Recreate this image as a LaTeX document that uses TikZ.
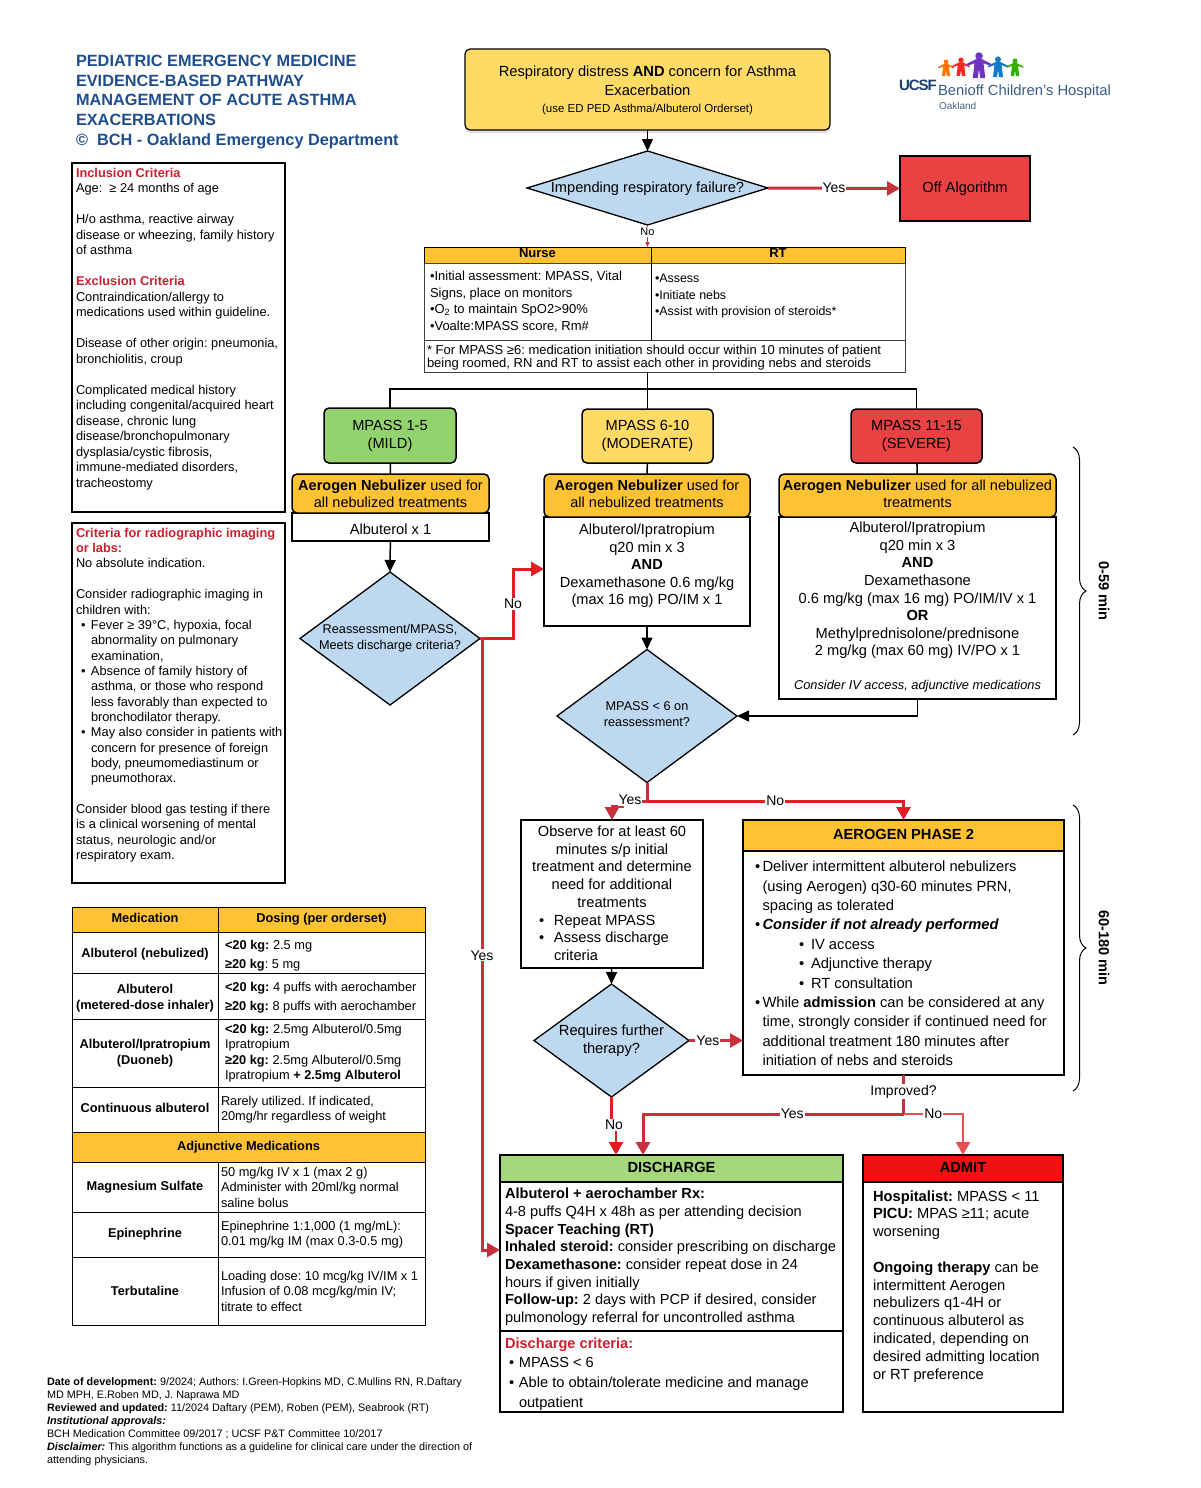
\documentclass[tikz,border=0pt]{standalone}
\usepackage{fontspec}
\setmainfont{Liberation Sans}
\usetikzlibrary{positioning}
\usetikzlibrary{arrows.meta}
\usetikzlibrary{shapes.geometric,shadows}
\usetikzlibrary{decorations.pathreplacing}
\definecolor{orangehead}{HTML}{FFC233}
\definecolor{yellowbox}{HTML}{FFDB66}
\definecolor{greenbox}{HTML}{93D36D}
\definecolor{redbox}{HTML}{E84242}
\definecolor{bluebox}{HTML}{BDD8EF}
\definecolor{greenhead}{HTML}{A5D87B}
\definecolor{admithead}{HTML}{F01212}
\definecolor{redline}{HTML}{C8303C}
\definecolor{brightred}{HTML}{E21E24}
\definecolor{softred}{HTML}{E8504F}
\definecolor{titleblue}{HTML}{1F4E8C}
\definecolor{criteriared}{HTML}{C9202F}
\newcommand{\fs}[2]{\frenchspacing\fontsize{#1}{#2}\selectfont}
\newcommand{\bul}[1]{\makebox[#1][l]{•}}
\newcommand{\drop}[1]{\rule{0pt}{#1}}
\newcommand{\logokid}[4]{%
  \begin{scope}[shift={(#1,#2)},scale=#3]
    \fill[#4] (0,-7.6) circle (3);
    \fill[#4] (-10,-1.2) -- (-2.5,-5) -- (2.5,-5) -- (10,-1.2) -- (9.5,.3) -- (3.6,-1.8)
      -- (5,10) -- (1,10) -- (0,3) -- (-1,10) -- (-5,10) -- (-3.6,-1.8) -- (-9.5,.3) -- cycle;
  \end{scope}%
}
\tikzset{
  box/.style={rectangle,draw=black,line width=1.5pt,inner sep=0pt,outer sep=0pt,
    align=center,font=\fs{14.65}{18}},
  rbox/.style={box,rounded corners=5pt},
  headbox/.style={rbox,fill=orangehead,minimum height=#1},
  phasehead/.style={box,text depth=3pt,font=\bfseries\fs{14.65}{18}},
  tablehead/.style={box,line width=1pt,fill=orangehead,minimum height=16pt,text depth=4pt,font=\bfseries\fs{13}{15}},
  tablebody/.style={box,line width=1pt,draw=black!75,minimum height=77pt},
  decision/.style={diamond,draw=black,line width=1.3pt,fill=bluebox,inner sep=0pt,outer sep=0pt},
  tx/.style={inner sep=0pt,outer sep=0pt,align=left,anchor=north west,font=\fs{12.8}{15.5}},
  txc/.style={inner sep=0pt,outer sep=0pt,align=center,anchor=north,font=\fs{14.65}{17.6}},
  name cell/.style={box,line width=1pt,minimum width=146pt,minimum height=#1,font=\bfseries\fs{12.8}{15.5}},
  dose cell/.style={box,line width=1pt,text width=201pt,inner xsep=3pt,minimum height=#1,
    align=flush left,font=\fs{12.8}{15.5}},
  lbl/.style={fill=white,inner sep=1pt,outer sep=0pt,font=\fs{14}{16}},
  flow/.style={draw=black,line width=1.5pt,-{Triangle[length=12pt,width=11pt]}},
  plain/.style={draw=black,line width=1.5pt},
  redflow/.style={draw=redline,line width=3pt,-{Triangle[length=13pt,width=14pt]}},
  brightflow/.style={draw=brightred,line width=3pt,-{Triangle[length=13pt,width=14pt]}},
  softflow/.style={draw=softred,line width=2.4pt,-{Triangle[length=13pt,width=14pt]}},
  span/.style={draw=black,line width=1pt,decorate,decoration={brace,amplitude=13pt,aspect=.5}},
  spanlabel/.style={rotate=-90,inner sep=0pt,font=\bfseries\fs{14.6}{16}},
}
\begin{document}
\begin{tikzpicture}[x=1pt,y=-1pt]
\useasboundingbox (0,0) rectangle (1200,1488);

\node[tx,text=titleblue,font=\bfseries\fs{16.3}{19.8}] (title) at (76,55)
  {PEDIATRIC EMERGENCY MEDICINE\\EVIDENCE-BASED PATHWAY\\MANAGEMENT OF ACUTE ASTHMA\\
   EXACERBATIONS\\©~ BCH - Oakland Emergency Department};

\logokid{946}{68}{.8}{orange!90!red}
\logokid{961}{67}{.9}{red!80!pink}
\logokid{979}{65.5}{1.25}{violet!60!blue!80}
\logokid{998}{67}{1}{cyan!60!blue}
\logokid{1015}{67.5}{.85}{green!60!black!80!yellow}
\node[tx,text=titleblue!80!black,font=\bfseries\fs{15}{16}] (ucsf) at (899,80) {\addfontfeatures{LetterSpace=-7}UCSF};
\node[tx,text=titleblue!70!gray,font=\fs{14.8}{16}] (benioff) at (938,85) {Benioff Children's Hospital};
\node[tx,text=titleblue!60!gray,font=\fs{10}{11}] (oakland) at (939,102) {Oakland};

\node[rbox,line width=1.2pt,fill=yellowbox,minimum width=365pt,minimum height=81pt,anchor=north west,
  drop shadow={shadow xshift=0pt,shadow yshift=-3pt,opacity=.25}] (start) at (465,49) {};
\node[txc,font=\fs{14.7}{19}] (starttext) at (647.5,66)
  {Respiratory distress \textbf{AND} concern for Asthma\\Exacerbation\\[-2pt]
   {\fs{11.5}{14}(use ED PED Asthma/Albuterol Orderset)}};

\node[decision,minimum width=241pt,minimum height=74pt] (failure) at (647.5,188) {};
\node[inner sep=0pt,font=\fs{14.6}{18}] (failuretext) at (647.5,188.5) {Impending respiratory failure?};
\node[box,line width=2pt,fill=redbox,minimum width=130pt,minimum height=65pt,anchor=north west] (off) at (900,156) {Off Algorithm};

\node[tablehead,minimum width=227pt,anchor=north west] (nursehead) at (424,247) {Nurse};
\node[tablehead,minimum width=254pt] (rthead) [right=0pt of nursehead] {RT};
\node[tablebody,minimum width=227pt] (nursebody) [below=0pt of nursehead] {};
\node[tablebody,minimum width=254pt] (rtbody) [below=0pt of rthead] {};
\node[tablebody,minimum width=481pt,minimum height=32pt] (note) [below right=0pt and 0pt of nursebody.south west] {};
\draw[line width=1pt] (nursebody.north east) -- (nursebody.south east);
\node[tx,font=\fs{13}{16.6}] (nursetext) at (430,271)
  {•Initial assessment: MPASS, Vital\\Signs, place on monitors\\•O\textsubscript{2} to maintain SpO2>90\%\\•Voalte:MPASS score, Rm\#};
\node[tx,font=\fs{12.4}{16.6}] (rttext) at (655,274)
  {•Assess\\•Initiate nebs\\•Assist with provision of steroids*};
\node[tx,font=\fs{13}{13.2}] (notetext) at (427,345)
  {* For MPASS ≥6: medication initiation should occur within 10 minutes of patient\\being roomed, RN and RT to assist each other in providing nebs and steroids};

\node[rbox,fill=greenbox,minimum width=132pt,minimum height=55pt,anchor=north west] (mild) at (324,408) {MPASS 1-5\\(MILD)};
\node[rbox,fill=yellowbox,minimum width=131pt,minimum height=54pt,anchor=north west] (moderate) at (582,409) {MPASS 6-10\\(MODERATE)};
\node[rbox,fill=redbox,minimum width=131pt,minimum height=54pt,anchor=north west] (severe) at (851,409) {MPASS 11-15\\(SEVERE)};

\node[box,minimum width=197pt,minimum height=28pt,anchor=north west] (mildbody) at (292,513) {};
\node[txc] (mildtext) at (390.5,524) {Albuterol x 1};
\node[headbox=39pt,minimum width=197pt,anchor=north west] (mildhead) at (292,474) {};
\node[txc,font=\fs{14.5}{17.4}] (mildheadtext) at (390.5,480) {\textbf{Aerogen Nebulizer} used for\\all nebulized treatments};
\node[box,minimum width=206pt,minimum height=109pt,anchor=north west] (modbody) at (544,517) {};
\node[headbox=43pt,minimum width=206pt,anchor=north west] (modhead) at (544,474) {};
\node[txc,font=\fs{14.5}{17.4}] (modheadtext) at (647,480) {\textbf{Aerogen Nebulizer} used for\\all nebulized treatments};
\node[txc,font=\fs{14.6}{17.6}] (modtext) at (647,524)
  {Albuterol/Ipratropium\\q20 min x 3\\\textbf{AND}\\Dexamethasone 0.6 mg/kg\\(max 16 mg) PO/IM x 1};
\node[box,minimum width=277pt,minimum height=182pt,anchor=north west] (sevbody) at (779,517) {};
\node[headbox=43pt,minimum width=277pt,anchor=north west] (sevhead) at (779,474) {};
\node[txc,font=\fs{14.5}{17.4}] (sevheadtext) at (917.5,480) {\textbf{Aerogen Nebulizer} used for all nebulized\\treatments};
\node[txc] (sevtext) at (917.5,522)
  {Albuterol/Ipratropium\\q20 min x 3\\\textbf{AND}\\Dexamethasone\\0.6 mg/kg (max 16 mg) PO/IM/IV x 1\\\textbf{OR}\\Methylprednisolone/prednisone\\2 mg/kg (max 60 mg) IV/PO x 1};
\node[txc,font=\itshape\fs{12.8}{15}] (sevnote) at (917.5,680) {Consider IV access, adjunctive medications};

\node[decision,minimum width=180pt,minimum height=133pt] (reassess) at (390,638.5) {};
\node[txc,font=\fs{12.7}{16}] (reassesstext) at (390,624) {Reassessment/MPASS,\\Meets discharge criteria?};
\node[decision,minimum width=180pt,minimum height=133pt] (recheck) at (647,716) {};
\node[txc,font=\fs{12.7}{15.5}] (rechecktext) at (647,702) {MPASS < 6 on\\reassessment?};

\node[box,minimum width=182pt,minimum height=148pt,anchor=north west] (observe) at (521,820) {};
\node[txc] (observetext) at (612,826)
  {Observe for at least 60\\minutes s/p initial\\treatment and determine\\need for additional\\treatments};
\node[tx,font=\fs{14.65}{17.6}] (observelist) at (539,915)
  {\bul{15pt}Repeat MPASS\\\bul{15pt}Assess discharge\\\hspace*{15pt}criteria};

\node[phasehead,fill=orangehead,minimum width=321pt,minimum height=31pt,anchor=north west] (phasetop) at (743,820) {AEROGEN PHASE 2};
\node[box,minimum width=321pt,minimum height=224pt] (phasebody) [below=0pt of phasetop] {};
\node[tx,font=\fs{14.7}{19.4}] (phasetext) at (755,861)
  {\bul{7.5pt}Deliver intermittent albuterol nebulizers\\
   \hspace*{7.5pt}(using Aerogen) q30-60 minutes PRN,\\
   \hspace*{7.5pt}spacing as tolerated\\
   \bul{7.5pt}\textbf{\textit{Consider if not already performed}}\\
   \hspace*{44pt}\bul{12pt}IV access\\
   \hspace*{44pt}\bul{12pt}Adjunctive therapy\\
   \hspace*{44pt}\bul{12pt}RT consultation\\
   \bul{7.5pt}While \textbf{admission} can be considered at any\\
   \hspace*{7.5pt}time, strongly consider if continued need for\\
   \hspace*{7.5pt}additional treatment 180 minutes after\\
   \hspace*{7.5pt}initiation of nebs and steroids};

\node[decision,minimum width=155pt,minimum height=113pt] (further) at (611.5,1040.5) {};
\node[txc,font=\fs{14.65}{18}] (furthertext) at (611.5,1024.5) {Requires further\\therapy?};

\node[phasehead,fill=greenhead,minimum width=343pt,minimum height=27pt,anchor=north west] (dischead) at (500,1155) {DISCHARGE};
\node[box,minimum width=343pt,minimum height=149pt] (discbody) [below=0pt of dischead] {};
\node[box,minimum width=343pt,minimum height=81pt] (disccrit) [below=0pt of discbody] {};
\node[tx,font=\fs{14.6}{17.72}] (disctext) at (505,1188)
  {\textbf{Albuterol + aerochamber Rx:}\\4-8 puffs Q4H x 48h as per attending decision\\
   \textbf{Spacer Teaching (RT)}\\\textbf{Inhaled steroid:} consider prescribing on discharge\\
   \textbf{Dexamethasone:} consider repeat dose in 24\\hours if given initially\\
   \textbf{Follow-up:} 2 days with PCP if desired, consider\\pulmonology referral for uncontrolled asthma};
\node[tx,font=\bfseries\fs{14.6}{18},text=criteriared] (crithead) at (505,1338) {Discharge criteria:};
\node[tx,font=\fs{14.6}{20}] (crittext) at (509,1357.5)
  {\bul{10pt}MPASS < 6\\\bul{10pt}Able to obtain/tolerate medicine and manage\\\hspace*{10pt}outpatient};

\node[phasehead,fill=admithead,minimum width=200pt,minimum height=27pt,anchor=north west] (admit) at (863,1155) {ADMIT};
\node[box,minimum width=200pt,minimum height=230pt] (admitbody) [below=0pt of admit] {};
\node[tx,font=\fs{14.7}{17.8}] (admittext) at (873,1190.5)
  {\textbf{Hospitalist:} MPASS < 11\\\textbf{PICU:} MPAS ≥11; acute\\worsening\\[\baselineskip]
   \textbf{Ongoing therapy} can be\\intermittent Aerogen\\nebulizers q1-4H or\\continuous albuterol as\\indicated, depending on\\desired admitting location\\or RT preference};

\node[box,minimum width=213pt,minimum height=349pt,anchor=north west] (inclusion) at (72,163) {};
\node[tx] (inclusiontext) at (76,168)
  {\textcolor{criteriared}{\textbf{Inclusion Criteria}}\\Age: ~≥ 24 months of age\\[\baselineskip]
   H/o asthma, reactive airway\\disease or wheezing, family history\\of asthma\\[\baselineskip]
   \textcolor{criteriared}{\textbf{Exclusion Criteria}}\\Contraindication/allergy to\\medications used within guideline.\\[\baselineskip]
   Disease of other origin: pneumonia,\\bronchiolitis, croup\\[\baselineskip]
   Complicated medical history\\including congenital/acquired heart\\disease, chronic lung\\disease/bronchopulmonary\\dysplasia/cystic fibrosis,\\immune-mediated disorders,\\tracheostomy};
\node[box,minimum width=213pt,minimum height=360pt,anchor=north west] (imaging) at (72,523) {};
\node[tx,font=\fs{12.8}{15.35}] (imagingtext) at (76,528)
  {\textcolor{criteriared}{\textbf{Criteria for radiographic imaging}}\\\textcolor{criteriared}{\textbf{or labs:}}\\No absolute indication.\\[\baselineskip]
   Consider radiographic imaging in\\children with:\\
   \hspace*{5pt}\bul{10pt}Fever ≥ 39°C, hypoxia, focal\\\hspace*{15pt}abnormality on pulmonary\\\hspace*{15pt}examination,\\
   \hspace*{5pt}\bul{10pt}Absence of family history of\\\hspace*{15pt}asthma, or those who respond\\\hspace*{15pt}less favorably than expected to\\\hspace*{15pt}bronchodilator therapy.\\
   \hspace*{5pt}\bul{10pt}May also consider in patients with\\\hspace*{15pt}concern for presence of foreign\\\hspace*{15pt}body, pneumomediastinum or\\\hspace*{15pt}pneumothorax.\\[\baselineskip]
   Consider blood gas testing if there\\is a clinical worsening of mental\\status, neurologic and/or\\respiratory exam.};

\node[name cell=25pt,fill=orangehead,text depth=3pt,anchor=north west] (medhead) at (72,907) {Medication};
\node[name cell=25pt,fill=orangehead,text depth=3pt,minimum width=207pt] (dosehead) [right=0pt of medhead] {Dosing (per orderset)};
\node[name cell=41pt] (neb) [below=0pt of medhead] {\drop{13.5pt}Albuterol (nebulized)};
\node[dose cell=41pt,font=\fs{12.8}{19}] (nebdose) [right=0pt of neb] {\drop{15.5pt}\hspace*{4pt}\textbf{<20 kg:} 2.5 mg\\\hspace*{4pt}\textbf{≥20 kg}: 5 mg};
\node[name cell=46pt] (mdi) [below=0pt of neb] {\drop{14pt}Albuterol\\[.5pt](metered-dose inhaler)};
\node[dose cell=46pt,font=\fs{12.8}{19}] (mdidose) [right=0pt of mdi] {\drop{13.5pt}\hspace*{4pt}\textbf{<20 kg:} 4 puffs with aerochamber\\\hspace*{4pt}\textbf{≥20 kg:} 8 puffs with aerochamber};
\node[name cell=68pt] (duoneb) [below=0pt of mdi] {Albuterol/Ipratropium\\(Duoneb)};
\node[dose cell=68pt] (duonebdose) [right=0pt of duoneb] {\hspace*{4pt}\textbf{<20 kg:} 2.5mg Albuterol/0.5mg\\\hspace*{4pt}Ipratropium\\\hspace*{4pt}\textbf{≥20 kg:} 2.5mg Albuterol/0.5mg\\\hspace*{4pt}Ipratropium \textbf{+ 2.5mg Albuterol}};
\node[name cell=45pt,text depth=3pt] (cont) [below=0pt of duoneb] {Continuous albuterol};
\node[dose cell=45pt] (contdose) [right=0pt of cont] {Rarely utilized. If indicated,\\20mg/hr regardless of weight};
\node[name cell=30pt,fill=orangehead,minimum width=353pt] (adjunct) [below right=0pt and 0pt of cont.south west] {Adjunctive Medications};
\node[name cell=50pt] (mag) [below right=0pt and 0pt of adjunct.south west] {Magnesium Sulfate};
\node[dose cell=50pt] (magdose) [right=0pt of mag] {50 mg/kg IV x 1 (max 2 g)\\Administer with 20ml/kg normal\\saline bolus};
\node[name cell=45pt] (epi) [below=0pt of mag] {Epinephrine};
\node[dose cell=45pt] (epidose) [right=0pt of epi] {Epinephrine 1:1,000 (1 mg/mL):\\0.01 mg/kg IM (max 0.3-0.5 mg)};
\node[name cell=68pt] (terb) [below=0pt of epi] {Terbutaline};
\node[dose cell=68pt] (terbdose) [right=0pt of terb] {Loading dose: 10 mcg/kg IV/IM x 1\\Infusion of 0.08 mcg/kg/min IV;\\titrate to effect};

\node[tx,font=\fs{10.82}{13}] (footer) at (47,1378)
  {\textbf{Date of development:} 9/2024; Authors: I.Green-Hopkins MD, C.Mullins RN, R.Daftary\\
   MD MPH, E.Roben MD, J. Naprawa MD\\
   \textbf{Reviewed and updated:} 11/2024 Daftary (PEM), Roben (PEM), Seabrook (RT)\\
   \textbf{\textit{Institutional approvals:}}\\
   BCH Medication Committee 09/2017 ; UCSF P\&T Committee 10/2017\\
   \textbf{\textit{Disclaimer:}} This algorithm functions as a guideline for clinical care under the direction of\\
   attending physicians.};

\coordinate (trunk) at (647.5,389);
\coordinate (modin) at (544,569);
\coordinate (discin) at (500,1250);
\coordinate (yesno) at (647,801);
\coordinate (yesjog) at (622,806);
\coordinate (nojog) at (616,1125);
\coordinate (split) at (903.5,1114);
\coordinate (yesin) at (643,1155);

\draw[flow] (start) -- (failure.north);
\draw[redflow] (failure.east) -- node[lbl] (yesoff) {Yes} (off.west);
\draw[draw=redline,line width=1pt,-{Triangle[length=5pt,width=4pt]}] (failure.south) -- (failure.south |- nursehead.north)
  node[lbl,pos=.33,font=\fs{11}{13}] (nonurse) {No};
\draw[plain] (trunk |- note.south) -- (trunk);
\draw[plain] (mild.north) |- (trunk);
\draw[plain] (severe.north) |- (trunk);
\draw[plain] (trunk) -- (moderate.north);
\draw[plain] (mild) -- (mildhead);
\draw[plain] (moderate) -- (modhead);
\draw[plain] (severe) -- (sevhead);
\draw[flow] (mildbody) -- (reassess.north);
\draw[flow] (modbody) -- (recheck.north);
\draw[flow] (sevbody.south) |- (recheck.east);
\draw[flow] (observe) -- (further.north);
\draw[brightflow] (reassess.east) -- ++(33,0) |- node[lbl,pos=.25] (nomod) {No} (modin);
\draw[redflow] (reassess.east) -- ++(2,0) |- node[lbl,pos=.259] (yesdisc) {Yes} (discin);
\draw[redflow] (yesno) -| (yesjog) -| (observe.north);
\node[lbl] (yesobs) at (630,800) {Yes};
\draw[brightflow] (yesno) -| node[lbl,pos=.25] (nophase) {No} (phasetop.north);
\draw[draw=redline,line width=3pt] (recheck.south) -- (yesno);
\draw[redflow,line width=2.4pt] (further.east) -- node[lbl,pos=.35] (yesphase) {Yes} (phasebody.west |- further.east);
\draw[brightflow,line width=2.4pt] (further.south) |- (nojog) -- (nojog |- dischead.north);
\node[lbl] (nodisc) at (614,1125) {No};
\draw[draw=redline,line width=2.4pt] (phasebody.south) -- node[lbl,pos=.42] (improved) {Improved?} (split);
\draw[redflow] (split) -| node[lbl,pos=.2135] (yesimp) {Yes} (yesin);
\draw[softflow] (split) -| node[lbl,pos=.25] (noimp) {No} (admit.north);

\coordinate (firsttop) at (1073,447);
\coordinate (firstend) at (1073,735);
\coordinate (secondtop) at (1073,805);
\coordinate (secondend) at (1073,1091);
\draw[span] (firsttop) -- (firstend);
\draw[span] (secondtop) -- (secondend);
\node[spanlabel] (firstspan) at (1104,591) {0-59 min};
\node[spanlabel] (secondspan) at (1104,948) {60-180 min};
\end{tikzpicture}
\end{document}
